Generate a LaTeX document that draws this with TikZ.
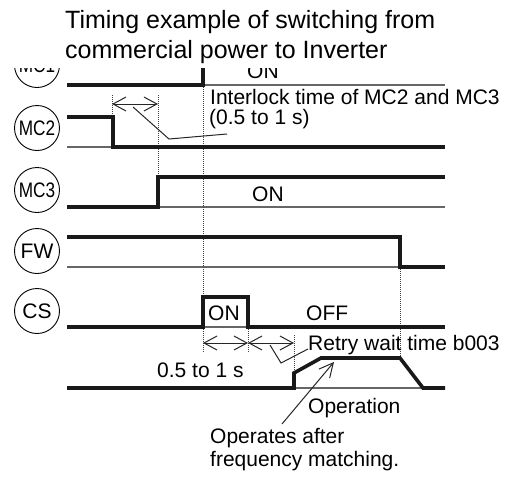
\documentclass[tikz,border=0pt]{standalone}
\usepackage{fontspec}
\setmainfont{Liberation Sans}
\usetikzlibrary{arrows.meta}
\begin{document}
\begin{tikzpicture}[x=1pt,y=-1pt,
  sig/.style={line width=3.6pt, line join=miter, black!90},
  basel/.style={line width=1.1pt, black!60},
  guide/.style={line width=0.9pt, dash pattern=on 1pt off 1pt, black!75},
  dimarr/.style={line width=1pt, black!85, {Straight Barb[length=13pt,width=14pt]}-{Straight Barb[length=13pt,width=14pt]}},
  lead/.style={line width=1pt, black!85},
  lbl/.style={circle, draw, line width=0.9pt, minimum size=45pt, inner sep=0pt, font=\fontsize{21}{21}\selectfont},
  txt/.style={anchor=base west, inner sep=0pt, font=\fontsize{21}{21}\selectfont},
  ttl/.style={anchor=base west, inner sep=0pt, font=\fontsize{25}{25}\selectfont}]
\useasboundingbox (0,0) rectangle (515,480);

% thin base lines
\draw[basel] (203,85) -- (445,85);
\draw[basel] (67,147) -- (113,147);
\draw[basel] (158,207) -- (445,207);
\draw[basel] (67,267) -- (400,267);
\draw[basel] (203,327) -- (248,327);
\draw[basel] (294,388) -- (423,388);

% guide (dotted) lines
\draw[guide] (112,95) -- (112,117);
\draw[guide] (158,95) -- (158,177);
\draw[guide] (203,85) -- (203,297);
\draw[guide] (203,327) -- (203,353);
\draw[guide] (248,327) -- (248,353);
\draw[guide] (294,335) -- (294,373);
\draw[guide] (400,267) -- (400,358);

% signals
\draw[sig] (67,85) -- (203,85) -- (203,55) -- (445,55);
\draw[sig] (67,117) -- (113,117) -- (113,147) -- (445,147);
\draw[sig] (67,207) -- (158,207) -- (158,177) -- (445,177);
\draw[sig] (67,237) -- (400,237) -- (400,267) -- (445,267);
\draw[sig] (67,327) -- (203,327) -- (203,297) -- (248,297) -- (248,327) -- (445,327);
\draw[sig] (67,388) -- (294,388) -- (294,373) -- (321,358) -- (400,358) -- (423,388) -- (445,388);

% signal circles
\node[lbl] (mc1) at (37,65) {\scalebox{0.82}[1]{MC1}};
\node[lbl] (mc2) at (37,128) {\scalebox{0.82}[1]{MC2}};
\node[lbl] (mc3) at (37,190) {\scalebox{0.82}[1]{MC3}};
\node[lbl] (fw) at (37,251) {FW};
\node[lbl] (cs) at (37,311) {CS};

% texts
\node[txt] (on1) at (247,78) {ON};
\node[txt] (il1) at (210,104) {Interlock time of MC2 and MC3};
\node[txt] (il2) at (209,124) {(0.5 to 1 s)};
\node[txt] (on3) at (252,201) {ON};
\node[txt] (oncs) at (208,320) {ON};
\node[txt] (off) at (306,320) {OFF};
\node[txt] (retry) at (308,350) {Retry wait time b003};
\node[txt] (half) at (157,377) {0.5 to 1 s};
\node[txt] (oper) at (308,413) {Operation};
\node[txt] (opa) at (210,443) {Operates after};
\node[txt] (opb) at (210,466) {frequency matching.};

% dimension arrows
\coordinate (i1) at (112,104);
\coordinate (i2) at (158,104);
\draw[dimarr] (i1) -- (i2);
\coordinate (c1) at (203,343);
\coordinate (c2) at (248,343);
\coordinate (c3) at (294,343);
\draw[dimarr] (c1) -- (c2);
\draw[dimarr] (c2) -- (c3);

% leaders
\coordinate (l1) at (133,107);
\coordinate (l2) at (169,139);
\coordinate (l3) at (227,134);
\draw[lead] (l1) -- (l2) -- (l3);
\coordinate (r1) at (270,345);
\coordinate (r2) at (281,363);
\coordinate (r3) at (308,349);
\draw[lead] (r1) -- (r2) -- (r3);
\coordinate (o1) at (282,424);
\coordinate (o2) at (334,362);
\draw[lead, -{Straight Barb[length=14pt,width=14pt]}] (o1) -- (o2);

% title band
\fill[white] (0,0) rectangle (515,68);
\node[ttl] (t1) at (65,28.5) {Timing example of switching from};
\node[ttl] (t2) at (65,58.5) {commercial power to Inverter};
\end{tikzpicture}
\end{document}
